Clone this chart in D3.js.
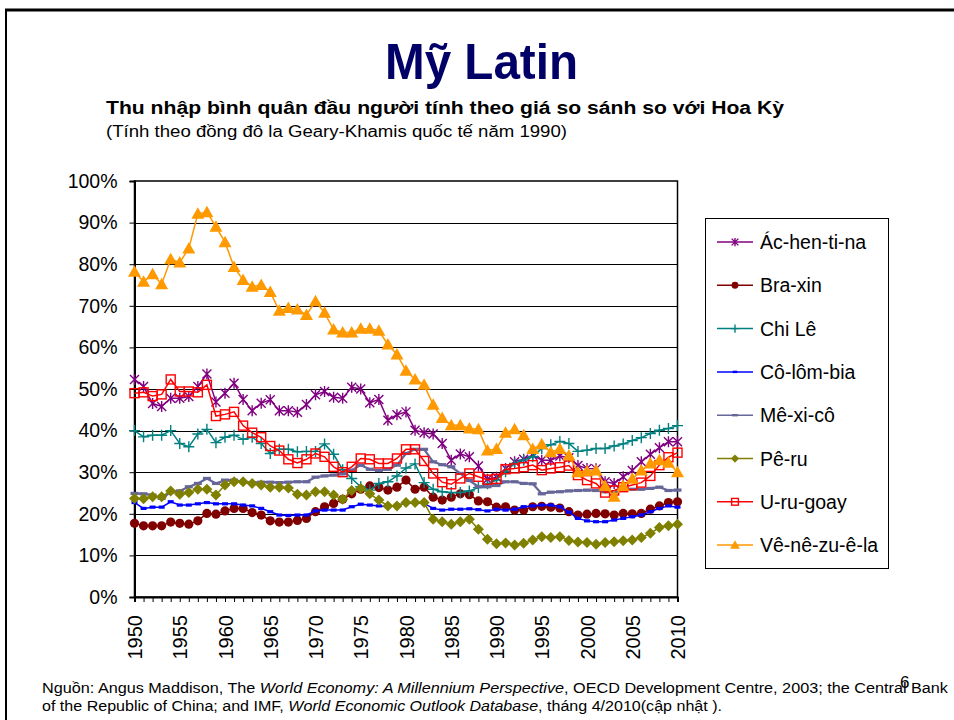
<!DOCTYPE html>
<html><head><meta charset="utf-8">
<script src="https://cdn.jsdelivr.net/npm/d3@7"></script>
<style>
html,body{margin:0;padding:0;background:#fff;}
svg{display:block;font-family:"Liberation Sans",Arial,sans-serif;}
</style></head>
<body><svg id="c" width="954" height="720"></svg>
<script>
const years = d3.range(1950, 2011);
const countries = ["Ác-hen-ti-na","Bra-xin","Chi Lê","Cô-lôm-bia","Mê-xi-cô","Pê-ru","U-ru-goay","Vê-nê-zu-ê-la"];
const argentina = [52.3,50.6,46.5,45.8,47.8,47.8,48.2,50.6,53.6,46.9, 49.0,51.4,47.5,44.8,46.6,47.4,44.8,44.8,44.4,46.3, 48.6,49.4,48.0,47.8,50.4,50.0,46.7,47.5,42.5,43.8, 44.5,40.1,39.5,39.2,36.9,32.9,34.4,33.7,31.5,28.3, 28.8,30.9,32.5,33.1,34.1,32.9,32.9,33.9,33.5,31.6, 30.9,30.8,27.7,27.3,28.9,30.4,32.5,34.3,35.9,37.3, 37.3];
const brazil = [17.7,17.1,17.1,17.1,18.0,17.7,17.5,18.3,20.1,19.9, 20.7,21.3,21.3,20.3,19.7,18.3,18.0,18.0,18.4,18.9, 20.5,21.7,22.5,23.5,24.8,25.9,26.7,26.3,25.7,26.4, 28.1,25.9,26.4,24.0,23.3,24.0,24.8,24.6,23.1,22.9, 21.6,21.7,20.9,20.9,21.7,21.8,21.6,21.4,20.5,19.7, 19.9,20.1,20.0,19.7,20.1,20.0,20.1,21.1,21.9,22.7, 22.9];
const chile = [40.0,38.5,38.9,38.9,40.0,36.9,36.1,39.2,40.3,37.1, 38.4,38.9,37.9,38.4,36.9,34.5,35.5,35.5,34.9,35.0, 35.0,36.8,34.3,30.6,28.5,26.5,25.7,27.3,27.7,29.1, 31.0,32.0,27.5,25.9,25.3,25.1,25.1,25.5,26.3,27.2, 28.1,30.1,32.1,32.9,33.7,35.7,36.6,37.4,36.9,35.0, 35.3,35.7,35.7,36.3,36.8,37.6,38.3,39.3,40.1,40.5, 41.2];
const colombia = [22.7,21.3,21.6,21.6,22.9,22.1,22.1,22.4,22.7,22.4, 22.4,22.4,22.1,21.9,21.3,20.5,19.7,19.6,19.7,19.7, 20.7,20.9,20.9,20.9,21.7,22.3,22.1,21.9,21.7,22.1, 22.5,22.7,22.5,21.3,20.9,21.1,21.1,21.2,21.0,20.7, 21.1,20.9,21.1,21.7,21.9,22.1,22.1,21.7,20.4,18.9, 18.3,18.1,18.1,18.5,18.9,19.3,19.7,20.5,21.3,21.9, 21.6];
const mexico = [24.9,24.8,24.5,23.7,25.2,25.5,26.5,27.3,28.5,27.3, 28.1,28.1,27.7,27.5,27.6,27.6,27.5,27.6,27.7,27.7, 28.8,29.1,29.3,29.6,30.5,31.7,30.7,30.4,30.7,31.7, 34.5,35.5,35.5,32.5,31.8,31.3,29.7,28.0,26.5,26.5, 26.8,27.7,27.7,27.3,27.2,24.8,25.2,25.3,25.5,25.6, 25.7,25.6,25.3,25.3,25.6,25.9,25.9,26.1,26.4,25.6, 25.7];
const peru = [23.7,23.6,24.1,24.1,25.5,24.7,25.1,25.9,25.9,24.5, 26.9,27.7,27.7,27.3,26.9,26.4,26.4,26.2,24.7,24.5, 25.3,25.3,24.5,23.5,25.6,26.1,24.8,23.3,21.9,21.9, 22.7,22.7,22.7,18.7,18.1,17.5,18.1,18.7,16.3,13.9, 12.8,13.0,12.5,12.9,13.7,14.5,14.3,14.5,13.6,13.2, 13.1,12.7,13.1,13.3,13.5,13.7,14.3,15.3,16.7,17.1, 17.5];
const uruguay = [49.0,49.2,48.3,48.7,52.3,49.4,49.4,49.2,51.0,43.5, 43.9,44.5,41.2,39.5,38.4,36.3,35.2,33.1,32.2,33.1, 34.5,33.7,31.3,30.0,31.3,33.3,33.1,32.1,32.1,33.3, 35.5,35.5,32.7,29.7,27.6,27.1,28.5,29.7,28.9,28.2, 28.4,30.7,30.9,31.2,31.7,30.5,30.9,31.2,31.6,29.3, 28.1,27.3,25.1,25.6,26.4,26.9,27.5,29.1,31.7,33.6, 34.7];
const venezuela = [78.2,75.8,77.6,75.2,81.2,80.4,83.8,92.1,92.5,89.0, 85.3,79.3,76.2,74.6,75.0,73.3,68.8,69.5,69.1,67.8, 71.1,68.3,64.3,63.6,63.6,64.5,64.5,64.0,60.7,58.3, 54.4,52.3,51.0,46.2,43.0,41.3,41.3,40.5,40.3,35.2, 35.6,39.5,40.3,38.9,35.6,36.7,34.8,35.6,34.0,30.0, 30.2,30.4,26.7,24.1,26.7,28.4,30.4,32.1,32.9,32.3, 30.0];
const yTicks = d3.range(0, 11).map(d => d / 10);
const xLabelYears = d3.range(1950, 2011, 5);

const seriesValues = [argentina, brazil, chile, colombia, mexico, peru, uruguay, venezuela];
const colors = ["#800080","#800000","#008080","#0000FF","#666699","#808000","#FF0000","#FF9900"];
const markers = ["star","circle","plus","dashS","dashL","diamond","square","triangle"];

const svg = d3.select("#c");
const L = 134.5, R = 677.5, T = 181, B = 597;
const x = d3.scaleLinear().domain([1950, 2010]).range([L, R]);
const y = d3.scaleLinear().domain([0, 1]).range([B, T]);

// outer slide frame
svg.append("line").attr("x1",5).attr("x2",954).attr("y1",10).attr("y2",10).attr("stroke","#000").attr("stroke-width",3);
svg.append("line").attr("x1",6).attr("x2",6).attr("y1",10).attr("y2",720).attr("stroke","#000").attr("stroke-width",2);

// titles
svg.append("text").attr("x",481.5).attr("y",79).attr("text-anchor","middle")
  .attr("font-family","'Liberation Sans Narrow','Liberation Sans',Arial,sans-serif")
  .attr("font-weight","bold").attr("font-size",50).attr("fill","#000066")
  .attr("textLength",193).attr("lengthAdjust","spacingAndGlyphs").text("Mỹ Latin");
svg.append("text").attr("x",106).attr("y",114).attr("font-weight","bold").attr("font-size",17.5)
  .attr("textLength",678).attr("lengthAdjust","spacingAndGlyphs")
  .text("Thu nhập bình quân đầu người tính theo giá so sánh so với Hoa Kỳ");
svg.append("text").attr("x",106).attr("y",137).attr("font-size",16)
  .attr("textLength",461).attr("lengthAdjust","spacingAndGlyphs")
  .text("(Tính theo đồng đô la Geary-Khamis quốc tế năm 1990)");

// gridlines
svg.append("g").selectAll("line").data(yTicks.filter(d => d > 0 && d < 1)).join("line")
  .attr("x1",L).attr("x2",R).attr("y1",d => Math.round(y(d))+0.5).attr("y2",d => Math.round(y(d))+0.5)
  .attr("stroke","#000").attr("stroke-width",1);

// plot frame (top/right)
svg.append("rect").attr("x",L).attr("y",T).attr("width",R-L).attr("height",B-T)
  .attr("fill","none").attr("stroke","#000").attr("stroke-width",1.5);

// axes
const yAxis = svg.append("g").attr("transform",`translate(${L},0)`)
  .call(d3.axisLeft(y).tickValues(yTicks).tickSize(5).tickPadding(12).tickFormat(d3.format(".0%")));
yAxis.select(".domain").attr("stroke","#000").attr("stroke-width",2);
yAxis.selectAll("text").attr("font-size",19.5).attr("fill","#000").attr("font-family","'Liberation Sans',Arial,sans-serif");

const xAxis = svg.append("g").attr("transform",`translate(0,${B})`)
  .call(d3.axisBottom(x).tickValues(years).tickSize(5).tickFormat(d => xLabelYears.includes(d) ? String(d) : ""));
xAxis.select(".domain").attr("stroke","#000").attr("stroke-width",2);
xAxis.selectAll("text").attr("font-size",20).attr("fill","#000").attr("font-family","'Liberation Sans',Arial,sans-serif")
  .attr("transform","rotate(-90)").attr("text-anchor","end").attr("x",-18).attr("y",0).attr("dy","0.36em");

function drawMarker(g, type, color, s) {
  if (type === "star") {
    g.append("path").attr("d",`M${-4.5*s},${-4.5*s}L${4.5*s},${4.5*s}M${-4.5*s},${4.5*s}L${4.5*s},${-4.5*s}M0,${-5.5*s}V${5.5*s}`)
      .attr("stroke",color).attr("stroke-width",1.4).attr("fill","none");
  } else if (type === "circle") {
    g.append("circle").attr("r",4.6*s).attr("fill",color);
  } else if (type === "plus") {
    g.append("path").attr("d",`M${-5.5*s},0H${5.5*s}M0,${-5.5*s}V${5.5*s}`).attr("stroke",color).attr("stroke-width",1.4);
  } else if (type === "dashS") {
    g.append("rect").attr("x",-3*s).attr("y",-1.6*s).attr("width",6*s).attr("height",3.2*s).attr("fill",color);
  } else if (type === "dashL") {
    g.append("rect").attr("x",-4*s).attr("y",-1.6*s).attr("width",8*s).attr("height",3.2*s).attr("fill",color);
  } else if (type === "diamond") {
    g.append("path").attr("d",`M0,${-5.5*s}L${5.5*s},0L0,${5.5*s}L${-5.5*s},0Z`).attr("fill",color);
  } else if (type === "square") {
    g.append("rect").attr("x",-4.5*s).attr("y",-4.5*s).attr("width",9*s).attr("height",9*s)
      .attr("fill","none").attr("stroke",color).attr("stroke-width",1.4);
  } else if (type === "triangle") {
    g.append("path").attr("d",`M0,${-6.5*s}L${6.5*s},${5*s}L${-6.5*s},${5*s}Z`).attr("fill",color);
  }
}

const line = d3.line().x((d,i) => x(years[i])).y(d => y(d/100));
seriesValues.forEach((vals, k) => {
  const g = svg.append("g");
  g.append("path").datum(vals).attr("d", line).attr("fill","none")
    .attr("stroke", colors[k]).attr("stroke-width", k === 4 ? 2.2 : 1.5);
  vals.forEach((v, i) => {
    const m = g.append("g").attr("transform",`translate(${x(years[i])},${y(v/100)})`);
    drawMarker(m, markers[k], colors[k], 1);
  });
});

// legend
const lg = svg.append("g");
lg.append("rect").attr("x",705.5).attr("y",218.5).attr("width",183).attr("height",350)
  .attr("fill","#fff").attr("stroke","#000").attr("stroke-width",1);
countries.forEach((name, k) => {
  const cy = 242 + k * 43.3;
  lg.append("line").attr("x1",717).attr("x2",753).attr("y1",cy).attr("y2",cy).attr("stroke",colors[k]).attr("stroke-width",1.5);
  const m = lg.append("g").attr("transform",`translate(735,${cy})`);
  drawMarker(m, markers[k], colors[k], 0.75);
  lg.append("text").attr("x",760).attr("y",cy).attr("dy","0.36em").attr("font-size",19.5).attr("fill","#000").text(name);
});

// footnote
const f1 = svg.append("text").attr("x",42).attr("y",693).attr("font-size",14).attr("textLength",906).attr("lengthAdjust","spacingAndGlyphs");
f1.append("tspan").text("Nguồn: Angus Maddison, The ");
f1.append("tspan").attr("font-style","italic").text("World Economy: A Millennium Perspective");
f1.append("tspan").text(", OECD Development Centre, 2003; the Central Bank");
const f2 = svg.append("text").attr("x",42).attr("y",711).attr("font-size",14).attr("textLength",680).attr("lengthAdjust","spacingAndGlyphs");
f2.append("tspan").text("of the Republic of China; and IMF, ");
f2.append("tspan").attr("font-style","italic").text("World Economic Outlook Database");
f2.append("tspan").text(", tháng 4/2010(cập nhật ).");
svg.append("text").attr("x",900).attr("y",688).attr("font-size",17).text("6");
</script>
</body></html>
